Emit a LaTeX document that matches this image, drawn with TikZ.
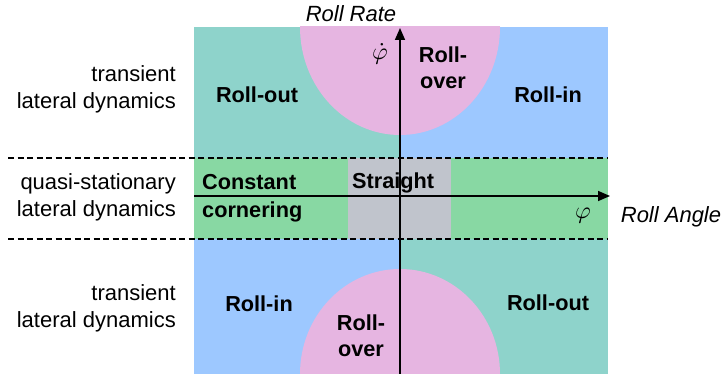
\documentclass[tikz,border=0pt]{standalone}
\usepackage{fontspec}
\setmainfont{Liberation Sans}
\usetikzlibrary{positioning}
\usetikzlibrary{arrows.meta}
\definecolor{tealreg}{HTML}{8ED3CB}
\definecolor{bluereg}{HTML}{9DC8FF}
\definecolor{pinkreg}{HTML}{E6B5E1}
\definecolor{greenreg}{HTML}{88D8A3}
\definecolor{grayreg}{HTML}{C0C4CC}
\newcommand{\bigmath}[1]{\scalebox{2.4}{$#1$}}
\tikzset{
    regnode/.style = {align=center,inner sep=0pt,font=\fontsize{21.7}{26}\selectfont\bfseries,text=black},
    regnodel/.style = {align=left,inner sep=0pt,font=\fontsize{21.7}{28}\selectfont\bfseries,text=black},
    sidenode/.style = {align=right,inner sep=0pt,anchor=east,font=\fontsize{22}{27}\selectfont,text=black},
    axisname/.style = {inner sep=0pt,font=\fontsize{22}{27}\selectfont\itshape,text=black},
    mathnode/.style = {inner sep=0pt,text=black},
    edgeaxis/.style = {-{Triangle[length=12pt,width=10pt]},line width=1.6pt,black},
    edgesep/.style = {-,line width=1.1pt,black,dash pattern=on 6pt off 3.5pt}, % band limits
}
\begin{document}
\begin{tikzpicture}[x=1pt,y=-1pt]
\useasboundingbox (0,0) rectangle (722,374);
%
% regions
\fill[tealreg] (194,27) rectangle (400,158);
\fill[bluereg] (400,27) rectangle (608,158);
\fill[greenreg] (194,158) rectangle (608,239);
\fill[grayreg] (348,158) rectangle (451,239);
\fill[bluereg] (194,239) rectangle (400,374);
\fill[tealreg] (400,239) rectangle (608,374);
\begin{scope}
  \clip (194,27) rectangle (608,158);
  \fill[pinkreg] (400,27) ellipse [x radius=100, y radius=108];
\end{scope}
\begin{scope}
  \clip (194,239) rectangle (608,374);
  \fill[pinkreg] (400,374) ellipse [x radius=100, y radius=105];
\end{scope}
%
\coordinate (sepa1) at (8,158);
\coordinate (sepa2) at (608,158);
\coordinate (sepb1) at (8,239);
\coordinate (sepb2) at (608,239);
\coordinate (ybot) at (400,374);
\coordinate (ytop) at (400,28);
\coordinate (xleft) at (194,196);
\coordinate (xright) at (610,196);
%
\draw[edgesep] (sepa1) -- (sepa2);
\draw[edgesep] (sepb1) -- (sepb2);
\draw[edgeaxis] (ybot) -- (ytop);
\draw[edgeaxis] (xleft) -- (xright);
%
\node[axisname] at (351,14) (rrate) {Roll Rate};
\node[axisname] at (671,217) (rangle) {Roll Angle};
\node[mathnode] at (380,54) (phidot) {\bigmath{\dot{\varphi}}};
\node[mathnode] at (583,216) (phi) {\bigmath{\varphi}};
%
\node[sidenode] at (176,89) (trtop) {transient\\lateral dynamics};
\node[sidenode] at (176,197) (quasi) {quasi-stationary\\lateral dynamics};
\node[sidenode] at (176,308) (trbot) {transient\\lateral dynamics};
%
\node[regnode] at (443,68) (overtop) {Roll-\\over};
\node[regnode] at (257,95) (outtop) {Roll-out};
\node[regnode] at (548,95) (intop) {Roll-in};
\node[regnodel, anchor=west] at (202,198) (const) {Constant\\cornering};
\node[regnode, anchor=west] at (352,183) (straight) {Straight};
\node[regnode] at (259,304) (inbot) {Roll-in};
\node[regnode] at (361,336) (overbot) {Roll-\\over};
\node[regnode] at (548,303) (outbot) {Roll-out};
\end{tikzpicture}
\end{document}
